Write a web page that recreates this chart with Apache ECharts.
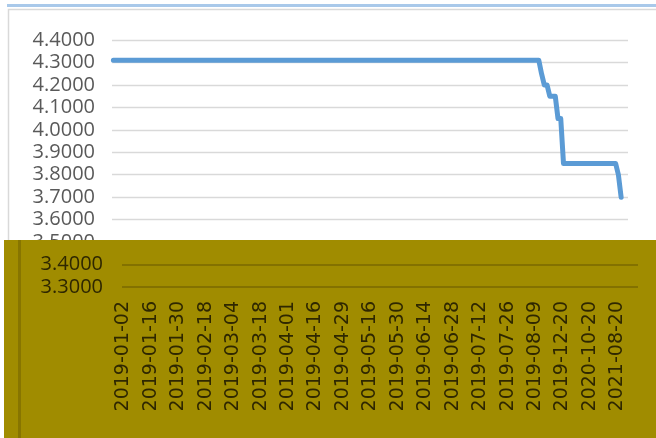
<!DOCTYPE html>
<html><head><meta charset="utf-8">
<script src="https://cdn.jsdelivr.net/npm/echarts@6/dist/echarts.min.js"></script>
<style>html,body{margin:0;padding:0;background:#fff}#c{width:656px;height:438px}</style>
</head><body><div id="c"></div>
<script>
const categories = [
'2019-01-02','2019-01-03','2019-01-04','2019-01-07','2019-01-08','2019-01-09','2019-01-10','2019-01-11','2019-01-14','2019-01-15','2019-01-16',
'2019-01-17','2019-01-18','2019-01-21','2019-01-22','2019-01-23','2019-01-24','2019-01-25','2019-01-28','2019-01-29','2019-01-30','2019-01-31',
'2019-02-01','2019-02-02','2019-02-03','2019-02-11','2019-02-12','2019-02-13','2019-02-14','2019-02-15','2019-02-18','2019-02-19','2019-02-20',
'2019-02-21','2019-02-22','2019-02-25','2019-02-26','2019-02-27','2019-02-28',
'2019-03-01','2019-03-04','2019-03-05','2019-03-06','2019-03-07','2019-03-08','2019-03-11','2019-03-12','2019-03-13','2019-03-14','2019-03-15',
'2019-03-18','2019-03-19','2019-03-20','2019-03-21','2019-03-22','2019-03-25','2019-03-26','2019-03-27','2019-03-28','2019-03-29',
'2019-04-01','2019-04-02','2019-04-03','2019-04-04','2019-04-08','2019-04-09','2019-04-10','2019-04-11','2019-04-12','2019-04-15','2019-04-16',
'2019-04-17','2019-04-18','2019-04-19','2019-04-22','2019-04-23','2019-04-24','2019-04-25','2019-04-26','2019-04-28','2019-04-29','2019-04-30',
'2019-05-06','2019-05-07','2019-05-08','2019-05-09','2019-05-10','2019-05-13','2019-05-14','2019-05-15','2019-05-16','2019-05-17','2019-05-20',
'2019-05-21','2019-05-22','2019-05-23','2019-05-24','2019-05-27','2019-05-28','2019-05-29','2019-05-30','2019-05-31',
'2019-06-03','2019-06-04','2019-06-05','2019-06-06','2019-06-10','2019-06-11','2019-06-12','2019-06-13','2019-06-14','2019-06-17','2019-06-18',
'2019-06-19','2019-06-20','2019-06-21','2019-06-24','2019-06-25','2019-06-26','2019-06-27','2019-06-28',
'2019-07-01','2019-07-02','2019-07-03','2019-07-04','2019-07-05','2019-07-08','2019-07-09','2019-07-10','2019-07-11','2019-07-12','2019-07-15',
'2019-07-16','2019-07-17','2019-07-18','2019-07-19','2019-07-22','2019-07-23','2019-07-24','2019-07-25','2019-07-26','2019-07-29','2019-07-30','2019-07-31',
'2019-08-01','2019-08-02','2019-08-05','2019-08-06','2019-08-07','2019-08-08','2019-08-09','2019-08-12','2019-08-13','2019-08-14','2019-08-15','2019-08-16',
'2019-08-20','2019-09-20','2019-10-21','2019-11-20','2019-12-20',
'2020-01-20','2020-02-20','2020-03-20','2020-04-20','2020-05-20','2020-06-22','2020-07-20','2020-08-20','2020-09-21','2020-10-20',
'2020-11-20','2020-12-21','2021-01-20','2021-02-20','2021-03-22','2021-04-20','2021-05-20','2021-06-21','2021-07-20','2021-08-20',
'2021-09-22','2021-10-20','2021-11-22','2021-12-20','2022-01-20'
];
const values = [
4.31,4.31,4.31,4.31,4.31,4.31,4.31,4.31,4.31,4.31,4.31,4.31,
4.31,4.31,4.31,4.31,4.31,4.31,4.31,4.31,4.31,4.31,4.31,4.31,
4.31,4.31,4.31,4.31,4.31,4.31,4.31,4.31,4.31,4.31,4.31,4.31,
4.31,4.31,4.31,4.31,4.31,4.31,4.31,4.31,4.31,4.31,4.31,4.31,
4.31,4.31,4.31,4.31,4.31,4.31,4.31,4.31,4.31,4.31,4.31,4.31,
4.31,4.31,4.31,4.31,4.31,4.31,4.31,4.31,4.31,4.31,4.31,4.31,
4.31,4.31,4.31,4.31,4.31,4.31,4.31,4.31,4.31,4.31,4.31,4.31,
4.31,4.31,4.31,4.31,4.31,4.31,4.31,4.31,4.31,4.31,4.31,4.31,
4.31,4.31,4.31,4.31,4.31,4.31,4.31,4.31,4.31,4.31,4.31,4.31,
4.31,4.31,4.31,4.31,4.31,4.31,4.31,4.31,4.31,4.31,4.31,4.31,
4.31,4.31,4.31,4.31,4.31,4.31,4.31,4.31,4.31,4.31,4.31,4.31,
4.31,4.31,4.31,4.31,4.31,4.31,4.31,4.31,4.31,4.31,4.31,4.31,
4.31,4.31,4.31,4.31,4.31,4.31,4.31,4.31,4.31,4.31,4.31,4.31,
4.25,4.20,4.20,4.15,4.15,4.15,4.05,4.05,
3.85,3.85,3.85,3.85,3.85,3.85,3.85,3.85,3.85,3.85,
3.85,3.85,3.85,3.85,3.85,3.85,3.85,3.85,3.85,3.85,
3.80,3.70
];
const yMin = 3.3, yMax = 4.4, yStep = 0.1;
const lowerTicksMax = 3.4;

const chart = echarts.init(document.getElementById('c'), null, {renderer: 'canvas'});
const fmt = v => Number(v).toFixed(4);
const dark = '#2e2700';
chart.setOption({
  animation: false,
  backgroundColor: '#ffffff',
  graphic: {
    elements: [
      {type: 'rect', z: 1, shape: {x: 7, y: 4, width: 649, height: 3}, style: {fill: '#a9c9ea'}},
      {type: 'rect', z: 1, shape: {x: 8.5, y: 9.5, width: 660, height: 300}, style: {fill: 'none', stroke: '#d9d9d9', lineWidth: 1.5}},
      {type: 'rect', z: 50, shape: {x: 4, y: 240, width: 652, height: 198}, style: {fill: '#a08c00'}},
      {type: 'rect', z: 51, shape: {x: 18, y: 240, width: 3, height: 198}, style: {fill: '#877500'}}
    ]
  },
  grid: [
    {left: 112, right: 28, top: 40, bottom: 151, containLabel: false},
    {left: 122, right: 18, top: 264.5, bottom: 151, containLabel: false}
  ],
  xAxis: [
    {type: 'category', gridIndex: 0, data: categories, max: 187, boundaryGap: true,
     axisLine: {show: false}, axisTick: {show: false}, axisLabel: {show: false}, splitLine: {show: false}},
    {type: 'category', gridIndex: 1, data: categories, max: 187, boundaryGap: true, z: 60,
     axisLine: {show: false}, axisTick: {show: false}, splitLine: {show: false},
     axisLabel: {interval: 9, rotate: 90, margin: 14, color: dark, fontSize: 19, fontFamily: 'DejaVu Sans'}}
  ],
  yAxis: [
    {type: 'value', gridIndex: 0, min: yMin, max: yMax, interval: yStep,
     axisLine: {show: false}, axisTick: {show: false},
     axisLabel: {formatter: fmt, color: '#595959', fontSize: 20, margin: 17, fontFamily: 'Open Sans'},
     splitLine: {lineStyle: {color: '#d9d9d9', width: 1.3}}},
    {type: 'value', gridIndex: 1, min: yMin, max: lowerTicksMax, interval: yStep, z: 60,
     axisLine: {show: false}, axisTick: {show: false},
     axisLabel: {formatter: fmt, color: dark, fontSize: 20, margin: 19, fontFamily: 'Open Sans'},
     splitLine: {lineStyle: {color: '#7a6800', width: 1.5}}}
  ],
  series: [{
    type: 'line', xAxisIndex: 0, yAxisIndex: 0, data: values,
    showSymbol: false, symbol: 'none',
    lineStyle: {color: '#5b9bd5', width: 5, cap: 'round', join: 'round'}
  }]
});
</script>
</body></html>
